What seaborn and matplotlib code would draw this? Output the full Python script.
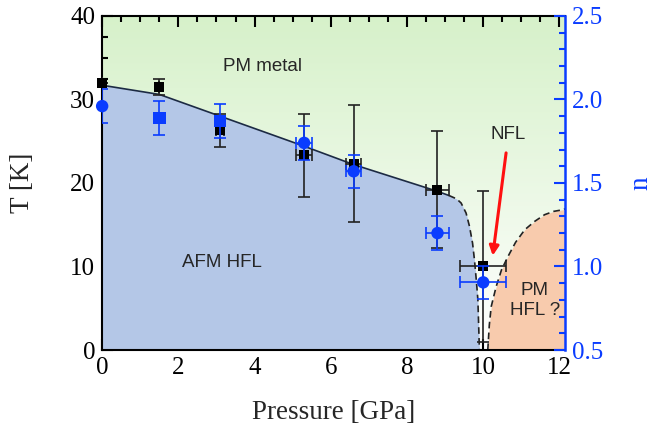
import numpy as np
import matplotlib
matplotlib.use("Agg")
import matplotlib.pyplot as plt
from matplotlib.ticker import MultipleLocator, FormatStrFormatter
import seaborn as sns
import pandas as pd

# ---- data ----
pressure_T = [0.0, 1.5, 3.1, 5.3, 6.6, 8.8, 10.0]
T_vals = [32.0, 31.5, 26.3, 23.3, 22.3, 19.2, 10.0]
T_err = [0.0, 1.0, 2.0, 5.0, 7.0, 7.0, 9.0]
T_perr = [0.0, 0.0, 0.1, 0.2, 0.2, 0.3, 0.6]

pressure_n = [0.0, 1.5, 3.1, 5.3, 6.6, 8.8, 10.0]
n_vals = [1.96, 1.89, 1.87, 1.74, 1.57, 1.20, 0.905]
n_err = [0.1, 0.1, 0.1, 0.1, 0.1, 0.1, 0.1]
n_perr = [0.0, 0.0, 0.0, 0.2, 0.2, 0.3, 0.6]
n_marker = ["o", "s", "s", "o", "o", "o", "o"]

afm_P_solid = [0.0, 1.5, 5.3, 6.6, 8.8, 9.1]
afm_T_solid = [31.7, 30.6, 24.4, 22.2, 19.0, 18.5]
afm_P_dash = [9.1, 9.3, 9.42, 9.55, 9.64, 9.72, 9.77, 9.82, 9.86, 9.9]
afm_T_dash = [18.5, 18.1, 17.6, 16.4, 14.8, 12.8, 10.8, 8.3, 6.0, 0.0]

hfl_P = [10.12, 10.16, 10.21, 10.34, 10.48, 10.65, 10.85, 11.09, 11.35, 11.61, 11.85, 12.1, 12.15]
hfl_T = [0.0, 3.0, 5.2, 7.6, 9.6, 11.2, 12.9, 14.4, 15.4, 16.2, 16.6, 16.8, 16.9]

# ---- style ----
sns.set_theme(style="ticks")
SERIF = ["Liberation Serif", "DejaVu Serif"]
SANS = ["Liberation Sans", "DejaVu Sans"]
plt.rcParams["font.family"] = SERIF

BLUE = "#0a3cff"
fig = plt.figure(figsize=(6.72, 4.30), dpi=100)
ax = fig.add_axes([0.152, 0.186, 0.689, 0.777])
ax.set_xlim(0, 12.15)
ax.set_ylim(0, 40)

# background gradient (PM metal)
grad = np.linspace(0, 1, 256).reshape(-1, 1)
top = np.array([0.84, 0.945, 0.79])
img = np.ones((256, 1, 3)) * (1 - grad[..., None]) + top * grad[..., None]
ax.imshow(img, extent=[0, 12.15, 0, 40], origin="lower", aspect="auto", zorder=0)

afm_P = afm_P_solid + afm_P_dash[1:]
afm_T = afm_T_solid + afm_T_dash[1:]
ax.fill_between(afm_P, 0, afm_T, color="#b4c7e7", lw=0, zorder=1)
ax.fill_between(hfl_P, 0, hfl_T, color="#f8cbad", lw=0, zorder=1)

sns.lineplot(x=afm_P_solid, y=afm_T_solid, ax=ax, color="#1c2a44", lw=1.2, sort=False, zorder=2)
ax.plot(afm_P_dash, afm_T_dash, color="#222222", lw=1.2, ls=(0, (4, 2.5)), zorder=2)
ax.plot(hfl_P, hfl_T, color="#222222", lw=1.2, ls=(0, (4, 2.5)), zorder=2)

# black T points
ax.errorbar(pressure_T, T_vals, yerr=T_err, xerr=T_perr, fmt="none", ecolor="#222222",
            elinewidth=1.2, capsize=4, capthick=1.2, zorder=3)
dfT = pd.DataFrame({"P": pressure_T, "T": T_vals})
sns.scatterplot(data=dfT, x="P", y="T", ax=ax, marker="s", s=50, color="black",
                edgecolor="black", linewidth=0, zorder=4, clip_on=False)

ax.text(4.2, 34, "PM metal", family=SANS, fontsize=13.5, ha="center", va="center")
ax.text(3.15, 10.5, "AFM HFL", family=SANS, fontsize=13.5, ha="center", va="center")
ax.text(10.65, 25.8, "NFL", family=SANS, fontsize=13.5, ha="center", va="center")
ax.text(11.35, 5.9, "PM\nHFL ?", family=SANS, fontsize=13.5, ha="center", va="center",
        linespacing=1.2)
ax.annotate("", xy=(10.25, 11.3), xytext=(10.6, 23.6),
            arrowprops=dict(arrowstyle="-|>", color="#ff1010", lw=2.2, mutation_scale=14,
                            shrinkA=0, shrinkB=0), zorder=5)

ax.set_xlabel("Pressure [GPa]", fontsize=19.5, labelpad=15, family=SERIF)
ax.set_ylabel("T [K]", fontsize=19.5, labelpad=25, family=SERIF)
ax.xaxis.set_major_locator(MultipleLocator(2))
ax.xaxis.set_minor_locator(MultipleLocator(0.5))
ax.yaxis.set_major_locator(MultipleLocator(10))
ax.yaxis.set_minor_locator(MultipleLocator(2.5))
ax.tick_params(which="both", direction="in", top=True, right=False, width=1.5,
               labelsize=18, colors="black", labelfontfamily="Liberation Serif")
ax.tick_params(which="major", length=8, pad=5)
ax.tick_params(which="minor", length=4)
for s in ["left", "bottom", "top"]:
    ax.spines[s].set_linewidth(1.5)
    ax.spines[s].set_color("black")
ax.spines["right"].set_visible(False)

# twin axis n
ax2 = ax.twinx()
ax2.set_ylim(0.5, 2.5)
ax2.errorbar(pressure_n, n_vals, yerr=n_err, xerr=n_perr, fmt="none", ecolor=BLUE,
             elinewidth=1.2, capsize=4, capthick=1.2, zorder=3)
dfn = pd.DataFrame({"P": pressure_n, "n": n_vals, "m": n_marker})
sns.scatterplot(data=dfn, x="P", y="n", style="m", markers={"o": "o", "s": "s"}, ax=ax2,
                s=80, color=BLUE, edgecolor=BLUE, linewidth=0, legend=False, zorder=4,
                clip_on=False)
ax2.set_ylabel("n", fontsize=19.5, color=BLUE, labelpad=18, family=SERIF)
ax2.yaxis.set_major_locator(MultipleLocator(0.5))
ax2.yaxis.set_minor_locator(MultipleLocator(0.1))
ax2.yaxis.set_major_formatter(FormatStrFormatter("%.1f"))
ax2.tick_params(axis="y", which="both", direction="in", width=1.5, colors=BLUE,
                labelsize=18, labelcolor=BLUE, labelfontfamily="Liberation Serif")
ax2.tick_params(axis="y", which="major", length=8, pad=5)
ax2.tick_params(axis="y", which="minor", length=4)
for s in ["left", "bottom", "top"]:
    ax2.spines[s].set_visible(False)
ax2.spines["right"].set_color(BLUE)
ax2.spines["right"].set_linewidth(1.8)
ax2.set_xlim(0, 12.15)

fig.savefig("out.png", dpi=100)
